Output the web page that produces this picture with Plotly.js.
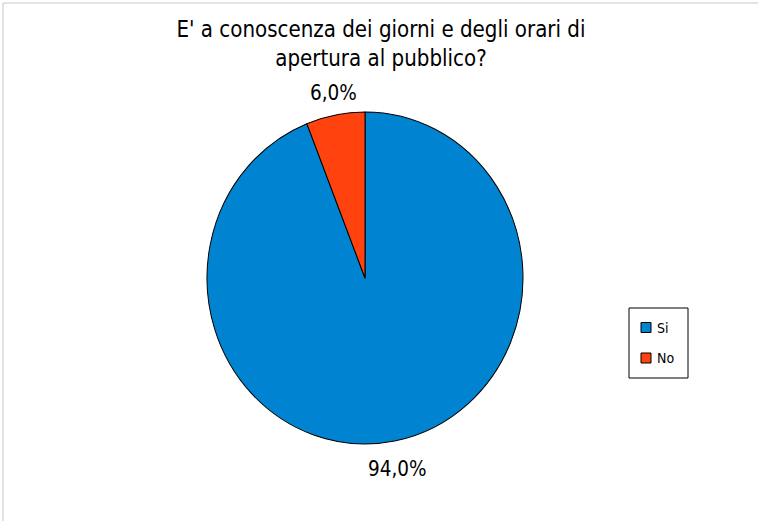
<!DOCTYPE html>
<html>
<head>
<meta charset="utf-8">
<script src="https://cdn.plot.ly/plotly-3.0.1.min.js"></script>
<style>
html,body{margin:0;padding:0;background:#fff;}
#chart{width:758px;height:521px;}
</style>
</head>
<body>
<div id="chart"></div>
<script>
var titleText = "E' a conoscenza dei giorni e degli orari di<br>apertura al pubblico?";
var categories = ["Si", "No"];
var values = [94.0, 6.0];
var colors = ["#0084D1", "#FF420E"];

var W = 758, H = 521;
var cx = 365, cy = 278, rx = 158, ry = 166;
var FONT = "DejaVu Sans Condensed, DejaVu Sans, sans-serif";

function px(x) { return x / W; }
function py(y) { return 1 - y / H; }

var trace = {
  type: "pie",
  labels: categories,
  values: values,
  sort: false,
  direction: "clockwise",
  rotation: 0,
  marker: {colors: colors, line: {color: "#000000", width: 1}},
  textinfo: "none",
  hoverinfo: "none",
  showlegend: false,
  domain: {x: [px(cx - rx), px(cx + rx)], y: [py(cy + rx), py(cy - rx)]}
};

// percentage labels placed outside each slice, from the data
var total = values.reduce(function (a, b) { return a + b; }, 0);
var annotations = [];
var cum = 0;
values.forEach(function (v) {
  var mid = (cum + v / 2) / total * 2 * Math.PI;
  cum += v;
  var s = Math.sin(mid), c = Math.cos(mid);
  var gap = c > 0 ? 8 : 14;
  annotations.push({
    xref: "paper", yref: "paper",
    x: px(cx + (rx + gap) * s),
    y: py(cy - (ry + gap) * c),
    xanchor: "center", yanchor: c > 0 ? "bottom" : "top",
    text: (v / total * 100).toFixed(1).replace(".", ",") + "%",
    showarrow: false,
    font: {family: FONT, size: 20.5, color: "#000"}
  });
});

// legend box
var shapes = [
  {type: "line", xref: "paper", yref: "paper", x0: px(3), x1: px(3), y0: 0, y1: py(3), line: {color: "#c8c8c8", width: 1}},
  {type: "line", xref: "paper", yref: "paper", x0: px(3), x1: 1, y0: py(3), y1: py(3), line: {color: "#c8c8c8", width: 1}},
  {type: "rect", xref: "paper", yref: "paper", x0: px(629), x1: px(688), y0: py(378), y1: py(308), line: {color: "#000", width: 1}, fillcolor: "#fff"}
];
var legTop = 327.5, legStep = 30.5;
categories.forEach(function (cat, i) {
  var yc = legTop + i * legStep;
  shapes.push({type: "rect", xref: "paper", yref: "paper",
    x0: px(641), x1: px(651), y0: py(yc + 5), y1: py(yc - 5),
    line: {color: "#000", width: 1}, fillcolor: colors[i]});
  annotations.push({xref: "paper", yref: "paper", x: px(655), y: py(yc),
    xanchor: "left", yanchor: "middle", text: cat, showarrow: false,
    font: {family: FONT, size: 14, color: "#000"}});
});

var layout = {
  width: W, height: H,
  margin: {l: 0, r: 0, t: 0, b: 0},
  paper_bgcolor: "#fff",
  title: {
    text: titleText,
    font: {family: FONT, size: 22.1, color: "#000"},
    x: px(381), xanchor: "center",
    y: py(37), yref: "container", yanchor: "middle"
  },
  showlegend: false,
  annotations: annotations,
  shapes: shapes
};

Plotly.newPlot("chart", [trace], layout, {displayModeBar: false, staticPlot: true}).then(function () {
  // the reference pie is slightly taller than wide
  var k = ry / rx;
  var pl = document.querySelector(".pielayer");
  if (pl) pl.setAttribute("transform", "translate(0," + cy + ") scale(1," + k + ") translate(0," + (-cy) + ")");
});
</script>
</body>
</html>
